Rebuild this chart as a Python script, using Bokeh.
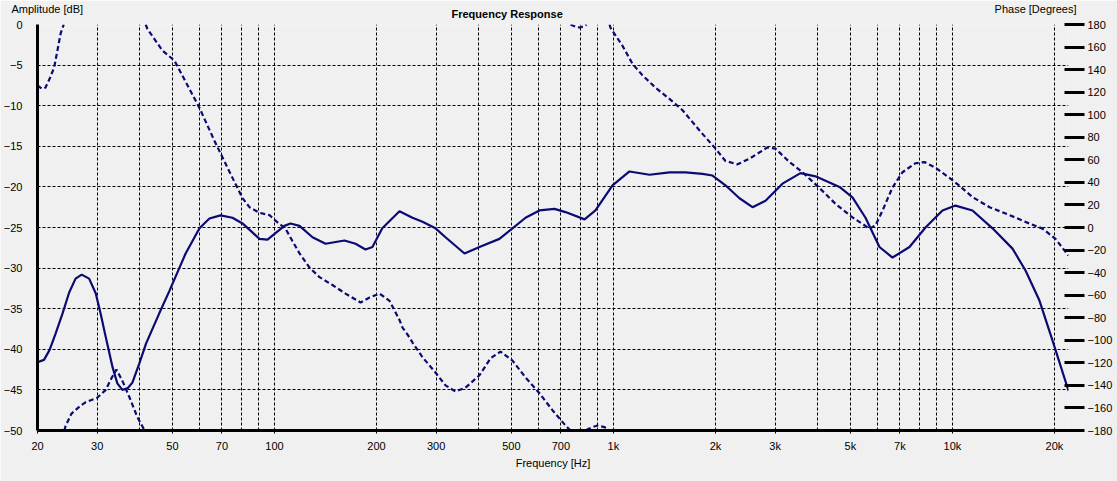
import numpy as np
from bokeh.plotting import figure
from bokeh.models import (Range1d, LinearAxis, FixedTicker, Title, Legend, LegendItem)
from bokeh.embed import file_html
from bokeh.resources import INLINE

# ---------------- data ----------------
amp_freq = [20.0, 20.9, 21.7, 22.6, 23.7, 24.8, 25.9, 27.0, 28.4, 29.7, 30.7, 31.8, 33.3,
            34.4, 35.6, 36.9, 38.1, 39.9, 41.8, 45.7, 49.0, 54.7, 60.1, 64.3, 69.3, 75.2,
            80.5, 86.1, 90.3, 95.4,
            100.7, 107, 111.5, 118.6, 129.5, 141.5, 160.9, 173.5, 185.6, 194.6, 208,
            233.8, 255.4, 273.4, 298.6, 319.6, 363.6, 402.6, 461, 503.8, 550.4, 605,
            670, 722, 822, 885, 994, 1115, 1278, 1463, 1631, 1831, 1960, 2140, 2354,
            2572, 2810, 3153, 3563, 3945, 4643, 5072, 5541, 6092, 6656, 7471, 8328,
            9346, 10210, 11460, 13130, 15040, 16430, 18060, 19730, 22000]
amp_db = [-41.6, -41.3, -40.1, -38.1, -35.6, -33.0, -31.3, -30.8, -31.3, -33.1, -35.6, -38.5,
          -42.2, -44.2, -45.0, -44.8, -44.1, -41.8, -39.3, -35.6, -32.8, -28.2, -25.1, -23.9,
          -23.5, -23.8, -24.5, -25.6, -26.4, -26.5,
          -25.7, -24.8, -24.5, -24.8, -26.2, -27.0, -26.6, -27.0, -27.7,
          -27.4, -25.1, -23.0, -23.8, -24.3, -25.1, -26.2, -28.2, -27.4, -26.4, -25.1,
          -23.8, -22.9, -22.7, -23.1, -24.0, -22.9, -19.8, -18.1, -18.5, -18.2, -18.2,
          -18.4, -18.6, -19.8, -21.4, -22.5, -21.7, -19.6, -18.3, -18.7, -20.0, -21.3,
          -23.8, -27.4, -28.7, -27.4, -25.0, -22.9, -22.3, -22.9, -25.1, -27.6, -30.3,
          -34.0, -38.9, -45.1]

# phase as displayed (wrapped to +/-180), segments separated by None
phase_freq = [20.0, 20.4, 20.7, 21.1, 21.8, 22.4, 22.9, 23.4, 23.9, None,
              24.0, 24.2, 25.2, 26.8, 27.7, 30.0, 31.8, 33.0, 34.2, 35.6, 37.4, 39.4, 41.4, None,
              41.7, 42.2, 46.7, 50.7, 60.1, 66.5, 70.3, 75.2, 80.5, 84.4, 90.3, 96.7, 100.7,
              107.8, 113, 118.6, 126.9, 135.8, 148.3, 162, 179.5, 190.8, 204.1, 218.5, 233.8,
              238.6, 250.3, 255.4, 273.4, 298.6, 319.6, 342, 366, 402.6, 433.9, 464.6, 503.8,
              550.4, 605, 661, 722, 747, None,
              747, 767.8, 794, 822, 833, None,
              833, 838, 867.8, 897.4, 941, 974, None,
              974, 980.7, 1064, 1139, 1218, 1331, 1463, 1599, 1795, 2000, 2140, 2322, 2519,
              2846, 3006, 3307, 3612, 4054, 4519, 5072, 5695, 5932, 6220, 6656, 7122, 7781,
              8270, 8913, 9800, 10495, 11460, 12870, 14740, 16880, 18440, 20130, 22000]
phase_deg = [126, 124, 123, 124, 133, 142, 157, 172, 180, None,
             -180, -176, -165, -158, -155, -151, -144, -134, -126, -136, -151, -168, -180, None,
             180, 176, 157, 148, 106, 77, 62, 44, 26, 18, 13, 11, 6,
             -1, -12, -23, -35.5, -44, -51, -58.6, -66.5, -62, -58.6, -65, -82,
             -88.7, -97.5, -102, -115, -128.6, -140, -145.4, -142, -131, -116, -110, -118,
             -133, -147, -162, -175.6, -180, None,
             180, 178.5, 177.3, 178.5, 180, None,
             -180, -179, -177, -175.6, -177, -180, None,
             180, 177, 161, 145, 135, 124, 114, 104, 86, 70, 59, 56, 61,
             71, 70, 58, 49, 35, 21, 9, -1, 2, 15, 35.5, 49, 57,
             58, 53, 44, 37, 27, 18, 11, 3.5, -1, -10, -25]

x_ticks_labeled = [20, 30, 50, 70, 100, 200, 300, 500, 700, 1000, 2000, 3000, 5000, 7000, 10000, 20000]
x_tick_labels = ["20", "30", "50", "70", "100", "200", "300", "500", "700",
                 "1k", "2k", "3k", "5k", "7k", "10k", "20k"]
x_ticks_minor = [40, 60, 80, 90, 400, 600, 800, 900, 4000, 6000, 8000, 9000]
amp_ticks = [0, -5, -10, -15, -20, -25, -30, -35, -40, -45, -50]
phase_ticks = list(range(-180, 181, 20))

# ---------------- styling ----------------
BG = "#f0f0f0"
LINE = "#0a0a72"
FONT = "Liberation Sans"
FS = "11px"

p = figure(x_axis_type="log", x_range=Range1d(20, 22000), y_range=Range1d(-50, 0),
           frame_width=1031, frame_height=406,
           min_border_left=35, min_border_right=51, min_border_top=24, min_border_bottom=51,
           output_backend="svg", toolbar_location=None,
           background_fill_color=BG, border_fill_color=BG)
p.outline_line_color = None

# x axis
xa = p.xaxis[0]
xa.ticker = FixedTicker(ticks=x_ticks_labeled, minor_ticks=x_ticks_minor)
xa.major_label_overrides = {t: l for t, l in zip(x_ticks_labeled, x_tick_labels)}
xa.axis_line_width = 3
xa.axis_line_color = "black"
xa.major_tick_out = 3
xa.major_tick_in = 0
xa.minor_tick_out = 0
xa.minor_tick_in = 0
xa.major_label_standoff = 6
xa.major_label_text_font = FONT
xa.major_label_text_font_size = FS
xa.major_label_text_color = "black"
xa.axis_label = "Frequency [Hz]"
xa.axis_label_text_font = FONT
xa.axis_label_text_font_size = FS
xa.axis_label_text_font_style = "normal"
xa.axis_label_text_color = "black"
xa.axis_label_standoff = 2

# left axis
ya = p.yaxis[0]
ya.ticker = FixedTicker(ticks=amp_ticks)
ya.axis_line_width = 3
ya.axis_line_color = "black"
ya.major_tick_out = 0
ya.major_tick_in = 0
ya.minor_tick_out = 0
ya.minor_tick_in = 0
ya.major_label_standoff = 15
ya.major_label_text_font = FONT
ya.major_label_text_font_size = FS
ya.major_label_text_color = "black"

# right phase axis
p.extra_y_ranges = {"phase": Range1d(-180, 180)}
ra = LinearAxis(y_range_name="phase", ticker=FixedTicker(ticks=phase_ticks))
ra.axis_line_color = None
ra.major_tick_line_width = 3
ra.major_tick_line_color = "black"
ra.major_tick_in = 4
ra.major_tick_out = 16
ra.minor_tick_out = 0
ra.minor_tick_in = 0
ra.major_label_standoff = 3
ra.major_label_text_font = FONT
ra.major_label_text_font_size = FS
ra.major_label_text_color = "black"
p.add_layout(ra, "right")

# grid
for g in (p.xgrid[0], p.ygrid[0]):
    g.grid_line_color = "black"
    g.grid_line_width = 1
    g.grid_line_dash = "3 2"
p.xgrid[0].minor_grid_line_color = "black"
p.xgrid[0].minor_grid_line_width = 1
p.xgrid[0].minor_grid_line_dash = "3 2"

# data
amp_r = p.line(amp_freq, amp_db, line_color=LINE, line_width=2.2)
pf = np.array([np.nan if v is None else v for v in phase_freq], dtype=float)
pd_ = np.array([np.nan if v is None else v for v in phase_deg], dtype=float)
p.line(pf, pd_, y_range_name="phase", line_color=LINE, line_width=2.2, line_dash="5 3")

# top texts as titles in the "above" panel (slot sizes tuned so they share one row)
p.add_layout(Title(text="Frequency Response", align="left", offset=414, standoff=10,
                   vertical_align="bottom", text_font=FONT, text_font_size=FS,
                   text_font_style="bold", text_color="black"), "above")
p.add_layout(Title(text="Amplitude [dB]", align="left", offset=-26, standoff=-28,
                   vertical_align="bottom", text_font=FONT, text_font_size=FS,
                   text_font_style="normal", text_color="black"), "above")
p.add_layout(Title(text="Phase [Degrees]", align="right", offset=-8, standoff=-28,
                   vertical_align="bottom", text_font=FONT, text_font_size=FS,
                   text_font_style="normal", text_color="black"), "above")

legend = Legend(items=[LegendItem(label="Empty", renderers=[amp_r])],
                location=(-30, 8), padding=0, margin=0, spacing=0,
                glyph_width=11, glyph_height=11, label_standoff=4, label_height=11,
                label_text_font=FONT, label_text_font_size=FS, label_text_color="black",
                border_line_color=None, background_fill_alpha=0)
p.add_layout(legend, "below")

open("out.html", "w").write(file_html(p, INLINE))
